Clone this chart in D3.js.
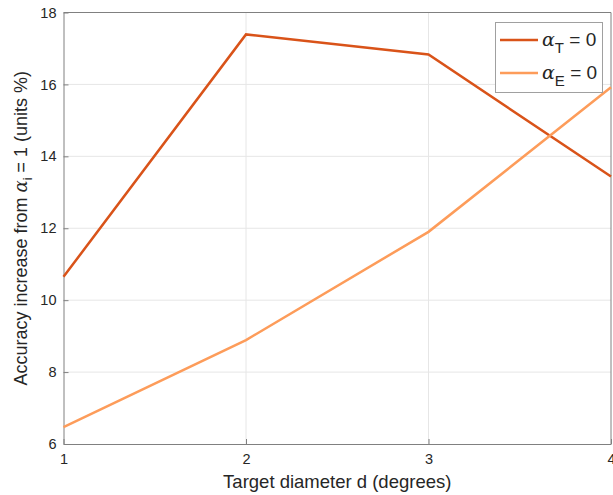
<!DOCTYPE html>
<meta charset="utf-8">
<style>
body { margin: 0; background: white; }
text { font-family: "Liberation Sans", Helvetica, Arial, sans-serif; fill: #262626; }
.grid line { stroke: #e6e6e6; stroke-width: 1px; }
</style>
<body>
<script src="https://d3js.org/d3.v7.min.js"></script>
<script>

// chart values
const diameters = [1, 2, 3, 4]
const alphaT0 = [10.65, 17.39, 16.83, 13.44]
const alphaE0 = [6.47, 8.89, 11.90, 15.92]
const xTicks = [1, 2, 3, 4]
const yTicks = [6, 8, 10, 12, 14, 16, 18]

const width = 613
const height = 495
const margin = {left: 63.5, right: 2, top: 12.5, bottom: 51}

const svg = d3.select('body')
	.append('svg')
	.attr('width', width)
	.attr('height', height)

const x = d3.scaleLinear()
	.domain([1, 4])
	.range([margin.left, width - margin.right])

const y = d3.scaleLinear()
	.domain([6, 18])
	.range([height - margin.bottom, margin.top])

// grid lines
const grid = svg.append('g').attr('class', 'grid')
grid.selectAll('.gx')
	.data(xTicks.slice(1, -1))
	.enter()
	.append('line')
	.attr('x1', d => x(d)).attr('x2', d => x(d))
	.attr('y1', y(6)).attr('y2', y(18))
grid.selectAll('.gy')
	.data(yTicks.slice(1, -1))
	.enter()
	.append('line')
	.attr('x1', x(1)).attr('x2', x(4))
	.attr('y1', d => y(d)).attr('y2', d => y(d))

// axes
const xAxis = svg.append('g')
	.attr('transform', `translate(0,${y(6)})`)
	.call(d3.axisBottom(x).tickValues(xTicks).tickFormat(d3.format('d')).tickSizeInner(-5).tickSizeOuter(0))
const yAxis = svg.append('g')
	.attr('transform', `translate(${x(1)},0)`)
	.call(d3.axisLeft(y).tickValues(yTicks).tickSizeInner(-5).tickSizeOuter(0))

for (const ax of [xAxis, yAxis]) {
	ax.select('.domain').attr('stroke', '#808080')
	ax.selectAll('.tick line').attr('stroke', '#808080')
	ax.selectAll('.tick text')
		.attr('font-size', 14.5)
		.attr('fill', '#262626')
		.style('font-family', '"Liberation Sans", Helvetica, Arial, sans-serif')
}
xAxis.selectAll('.tick text').attr('y', 10)
yAxis.selectAll('.tick text').attr('x', -7)

// top and right box edges
svg.append('line')
	.attr('x1', x(1)).attr('x2', x(4))
	.attr('y1', y(18)).attr('y2', y(18))
	.attr('stroke', '#808080')
svg.append('line')
	.attr('x1', x(4)).attr('x2', x(4))
	.attr('y1', y(6)).attr('y2', y(18))
	.attr('stroke', '#808080')

// series lines
const line = d3.line()
	.x((d, i) => x(diameters[i]))
	.y(d => y(d))

const series = [
	{name: 'T', values: alphaT0, color: '#d95319'},
	{name: 'E', values: alphaE0, color: '#fd9c5a'}
]

svg.selectAll('.series')
	.data(series)
	.enter()
	.append('path')
	.attr('d', d => line(d.values))
	.attr('fill', 'none')
	.attr('stroke', d => d.color)
	.attr('stroke-width', 2.5)

// axis labels
svg.append('text')
	.attr('x', (x(1) + x(4)) / 2)
	.attr('y', 488)
	.attr('text-anchor', 'middle')
	.attr('font-size', 18.5)
	.text('Target diameter d (degrees)')

const yLabel = svg.append('text')
	.attr('transform', `translate(27,${(y(6) + y(18)) / 2}) rotate(-90)`)
	.attr('text-anchor', 'middle')
	.attr('font-size', 18)
yLabel.append('tspan').text('Accuracy increase from ')
yLabel.append('tspan').attr('font-family', 'DejaVu Serif').attr('font-style', 'italic').text('α')
yLabel.append('tspan').attr('font-size', 13).attr('dy', 5).text('i')
yLabel.append('tspan').attr('dy', -5).text(' = 1 (units %)')

// legend
const legend = svg.append('g')
legend.append('rect')
	.attr('x', 495.5).attr('y', 22.5)
	.attr('width', 107).attr('height', 70)
	.attr('fill', 'white')
	.attr('stroke', '#a0a0a0')

const items = legend.selectAll('.item')
	.data(series)
	.enter()
	.append('g')
	.attr('transform', (d, i) => `translate(0,${40 + i * 33})`)

items.append('line')
	.attr('x1', 500).attr('x2', 538)
	.attr('stroke', d => d.color)
	.attr('stroke-width', 2.5)

const lt = items.append('text')
	.attr('x', 542)
	.attr('y', 6)
	.attr('font-size', 19)
lt.append('tspan').attr('font-family', 'DejaVu Serif').attr('font-style', 'italic').text('α')
lt.append('tspan').attr('font-size', 15).attr('dy', 7).text(d => d.name)
lt.append('tspan').attr('dy', -7).text(' = 0')

</script>
</body>
